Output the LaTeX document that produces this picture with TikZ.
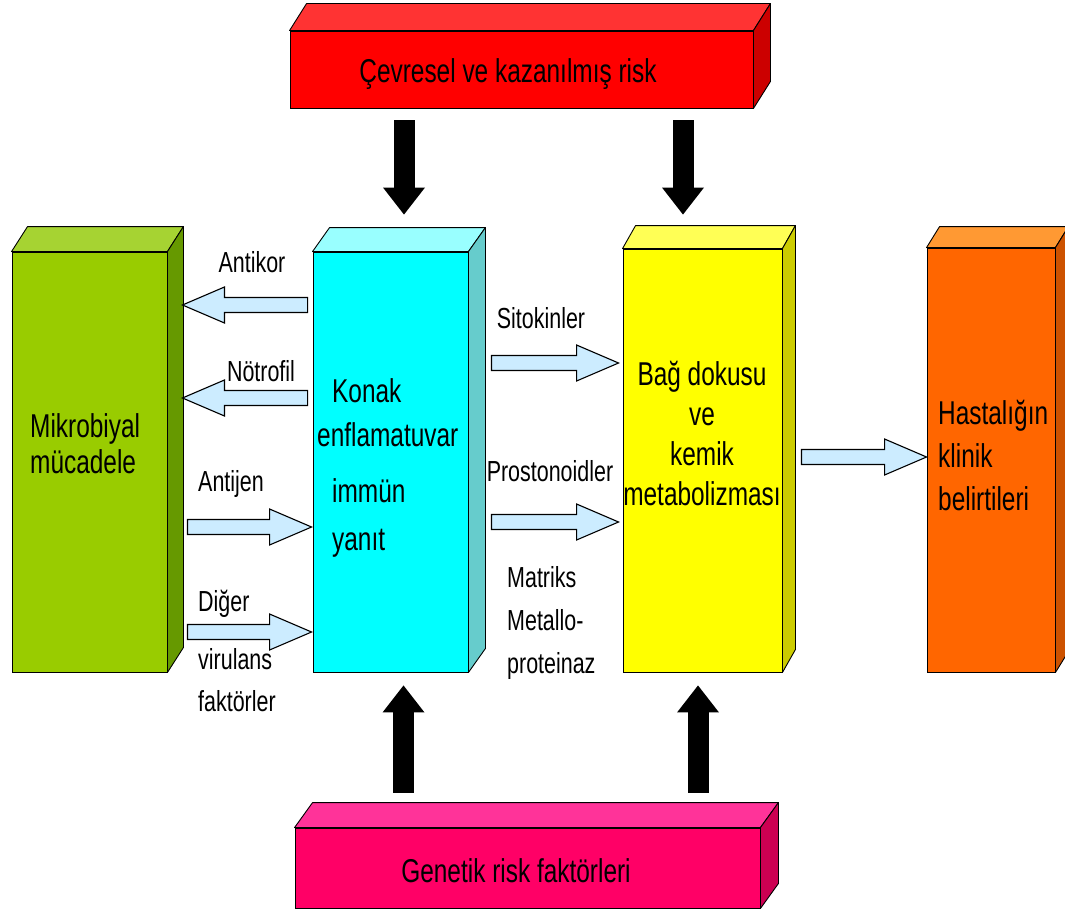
\documentclass[tikz,border=0pt]{standalone}
\usepackage{fontspec}
\setmainfont{Liberation Sans}[FakeStretch=0.74]
\usepackage{tikz}
\usetikzlibrary{arrows.meta,calc}
\definecolor{redfront}{HTML}{FF0000}
\definecolor{redtop}{HTML}{FF3333}
\definecolor{redside}{HTML}{CC0000}
\definecolor{greenfront}{HTML}{99CC00}
\definecolor{greentop}{HTML}{A6D332}
\definecolor{greenside}{HTML}{669900}
\definecolor{cyanfront}{HTML}{00FFFF}
\definecolor{cyantop}{HTML}{99FFFF}
\definecolor{cyanside}{HTML}{66CCCC}
\definecolor{yellowfront}{HTML}{FFFF00}
\definecolor{yellowtop}{HTML}{FFFF55}
\definecolor{yellowside}{HTML}{CCCC00}
\definecolor{orangefront}{HTML}{FF6600}
\definecolor{orangetop}{HTML}{FF9933}
\definecolor{orangeside}{HTML}{CC5200}
\definecolor{pinkfront}{HTML}{FF0066}
\definecolor{pinktop}{HTML}{FF3399}
\definecolor{pinkside}{HTML}{CC0052}
\definecolor{arrowblue}{HTML}{CCECFF}

% top and right faces of a box node
\newcommand{\boxfaces}[4][16,-25]{%
  \filldraw[fill=#3,line width=0.9pt,line join=round] (#2.north west) -- ++(#1) -- ($(#2.north east)+(#1)$) -- (#2.north east) -- cycle;
  \filldraw[fill=#4,line width=0.9pt,line join=round] (#2.north east) -- ++(#1) -- ($(#2.south east)+(#1)$) -- (#2.south east) -- cycle;}

\tikzset{
  box/.style={draw,line width=0.9pt,inner sep=0pt},
  boxtext/.style={font=\fontsize{33}{36}\selectfont,inner sep=0pt},
  lbl/.style={font=\fontsize{29}{43}\selectfont,inner sep=0pt},
  blackarrow/.style={line width=21pt,-{Triangle[length=27pt,width=42pt,line width=0pt]}},
  blockarrow/.style={draw=black,fill=arrowblue,line width=1.1pt,line join=miter,
    to path={let \p1=(\tikztostart),\p2=(\tikztotarget),\n1={(\x2>\x1) ? 1 : -1} in
      (\x1,{\y1+7.5pt}) -- ({\x2-(\n1)*42pt},{\y1+7.5pt}) -- ({\x2-(\n1)*42pt},{\y1+18pt})
      -- (\x2,\y1) -- ({\x2-(\n1)*42pt},{\y1-18pt}) -- ({\x2-(\n1)*42pt},{\y1-7.5pt})
      -- (\x1,{\y1-7.5pt}) -- cycle}}
}

\begin{document}
\begin{tikzpicture}[x=1pt,y=-1pt]
  \fill[white] (0,0) rectangle (1065,915);
  \useasboundingbox (0,0) rectangle (1065,915);

  % boxes
  \node[box,fill=redfront,minimum width=463pt,minimum height=77pt] (cevre) at (521.5,69.5) {};
  \boxfaces[17,-27]{cevre}{redtop}{redside}
  \node[box,fill=greenfront,minimum width=155pt,minimum height=420pt] (mikro) at (89.5,462) {};
  \boxfaces{mikro}{greentop}{greenside}
  \node[box,fill=cyanfront,minimum width=155pt,minimum height=420pt] (konak) at (390.5,462) {};
  \boxfaces[17,-24]{konak}{cyantop}{cyanside}
  \node[box,fill=yellowfront,minimum width=159pt,minimum height=423pt] (bag) at (702.5,460.5) {};
  \boxfaces[13,-23]{bag}{yellowtop}{yellowside}
  \node[box,fill=orangefront,minimum width=128pt,minimum height=424pt] (hasta) at (991,460) {};
  \boxfaces[13,-21]{hasta}{orangetop}{orangeside}
  \node[box,fill=pinkfront,minimum width=465pt,minimum height=80pt] (genetik) at (527.5,868) {};
  \boxfaces[18,-25]{genetik}{pinktop}{pinkside}

  % box texts (multi-line: base is the last line)
  \node[boxtext,anchor=base] (cevretxt) at (508,83) {Çevresel ve kazanılmış risk};
  \node[boxtext,anchor=base] (genetiktxt) at (516,882) {Genetik risk faktörleri};
  \node[boxtext,anchor=base west,align=left] (mikrotxt) at (30,473) {Mikrobiyal\\mücadele};
  \node[boxtext,anchor=base west,align=left,font=\fontsize{33}{44}\selectfont] (konaktxt) at (317,550)
    {\hspace*{15pt}Konak\\enflamatuvar\\[12pt]\hspace*{15pt}immün\\[4pt]\hspace*{15pt}yanıt};
  \node[boxtext,anchor=base,align=center,font=\fontsize{33}{40}\selectfont] (bagtxt) at (702,505)
    {Bağ dokusu\\ve\\kemik\\metabolizması};
  \node[boxtext,anchor=base west,align=left,font=\fontsize{33}{43}\selectfont] (hastatxt) at (938,510)
    {Hastalığın\\klinik\\belirtileri};

  % arrow labels
  \node[lbl,anchor=base] (antikor) at (252,272) {Antikor};
  \node[lbl,anchor=base] (notrofil) at (261,381) {Nötrofil};
  \node[lbl,anchor=base] (antijen) at (231,491) {Antijen};
  \node[lbl,anchor=base west,align=left,font=\fontsize{29}{42}\selectfont] (diger) at (198,711.5)
    {Diğer\\[16pt]virulans\\faktörler};
  \node[lbl,anchor=base] (sitokin) at (541,328) {Sitokinler};
  \node[lbl,anchor=base] (prosto) at (550,481) {Prostonoidler};
  \node[lbl,anchor=base west,align=left] (matriks) at (507,673) {Matriks\\Metallo-\\proteinaz};

  % light blue arrows
  \draw[blockarrow] ([xshift=-5pt,yshift=157pt]konak.west) to ([xshift=15pt,yshift=157pt]mikro.east);
  \draw[blockarrow] ([xshift=-5pt,yshift=64pt]konak.west) to ([xshift=15pt,yshift=64pt]mikro.east);
  \draw[blockarrow] ([xshift=20pt,yshift=-65pt]mikro.east) to ([xshift=-1pt,yshift=-65pt]konak.west);
  \draw[blockarrow] ([xshift=20pt,yshift=-170pt]mikro.east) to ([xshift=-1pt,yshift=-170pt]konak.west);
  \draw[blockarrow] ([xshift=23pt,yshift=99pt]konak.east) to ([xshift=-4pt,yshift=99pt]bag.west);
  \draw[blockarrow] ([xshift=23pt,yshift=-60pt]konak.east) to ([xshift=-4pt,yshift=-60pt]bag.west);
  \draw[blockarrow] ([xshift=19pt,yshift=3.5pt]bag.east) to ([yshift=3.5pt]hasta.west);

  % black arrows
  \draw[blackarrow] ($(cevre.south -| konak.north)+(13.5,12)$) -- ($(konak.north)+(13.5,-37)$);
  \draw[blackarrow] ($(cevre.south -| bag.north)+(-19.5,12)$) -- ($(bag.north)+(-19.5,-34)$);
  \draw[blackarrow] ($(genetik.north -| konak.south)+(13,-35)$) -- ($(konak.south)+(13,13)$);
  \draw[blackarrow] ($(genetik.north -| bag.south)+(-4.5,-35)$) -- ($(bag.south)+(-4.5,13)$);
\end{tikzpicture}
\end{document}
